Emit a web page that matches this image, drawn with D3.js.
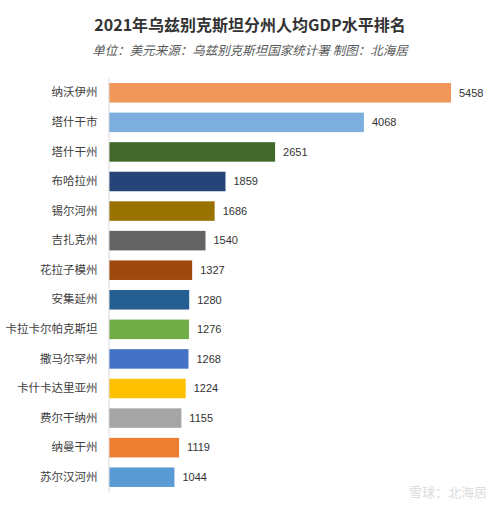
<!DOCTYPE html>
<html><head><meta charset="utf-8">
<script src="https://cdn.jsdelivr.net/npm/d3@7"></script>
<style>body{margin:0;background:#fff}svg{display:block}</style>
</head><body>
<script>
const categories = ["纳沃伊州","塔什干市","塔什干州","布哈拉州","锡尔河州","吉扎克州","花拉子模州","安集延州","卡拉卡尔帕克斯坦","撒马尔罕州","卡什卡达里亚州","费尔干纳州","纳曼干州","苏尔汉河州"];
const values = [5458,4068,2651,1859,1686,1540,1327,1280,1276,1268,1224,1155,1119,1044];
const colors = ["#F1975A","#7CAFDD","#43682B","#264478","#997300","#636363","#9E480E","#255E91","#70AD47","#4472C4","#FFC000","#A5A5A5","#ED7D31","#5B9BD5"];
const titleText = "2021年乌兹别克斯坦分州人均GDP水平排名";
const subtitleText = "单位：美元来源：乌兹别克斯坦国家统计署 制图：北海居";
const watermark = "雪球：北海居";

const W = 500, H = 507;
const font = "'Noto Sans CJK SC', 'Noto Sans', sans-serif";
const svg = d3.select("body").append("svg").attr("width", W).attr("height", H);

svg.append("text").attr("x", 250).attr("y", 31).attr("text-anchor","middle")
  .attr("font-family", font).attr("font-weight","bold").attr("font-size", 16)
  .attr("fill","#333").text(titleText);
svg.append("text").attr("x", 250).attr("y", 55).attr("text-anchor","middle")
  .attr("font-family", font).attr("font-style","italic").attr("font-size", 12.5)
  .attr("fill","#595959").text(subtitleText);

const x0 = 109;
const x = d3.scaleLinear().domain([0, 5458]).range([x0, 451]);
const y = d3.scaleBand().domain(categories).range([78, 492]).paddingInner(0.34).paddingOuter(0.17);

svg.selectAll("rect.bar").data(categories).join("rect").attr("class","bar")
  .attr("x", x(0)).attr("y", d => y(d))
  .attr("width", (d,i) => x(values[i]) - x(0)).attr("height", y.bandwidth())
  .attr("fill", (d,i) => colors[i]);

const axis = d3.axisLeft(y).tickSize(0).tickPadding(11);
const g = svg.append("g").attr("transform", `translate(${x0 - 0.5},0)`).call(axis);
g.select(".domain").attr("stroke","#d9d9d9").attr("stroke-width",1);
g.selectAll("text").attr("font-family", font).attr("font-size", 11.5).attr("fill","#404040");

svg.selectAll("text.val").data(categories).join("text").attr("class","val")
  .attr("x", (d,i) => x(values[i]) + 8).attr("y", d => y(d) + y.bandwidth()/2)
  .attr("dy","0.35em").attr("font-family","'Liberation Sans', Arial, sans-serif")
  .attr("font-size", 11).attr("fill","#333").text((d,i) => values[i]);

svg.append("text").attr("x", 487).attr("y", 497).attr("text-anchor","end")
  .attr("font-family", font).attr("font-size", 13).attr("fill","#dcdcdc").text(watermark);
</script>
</body></html>
